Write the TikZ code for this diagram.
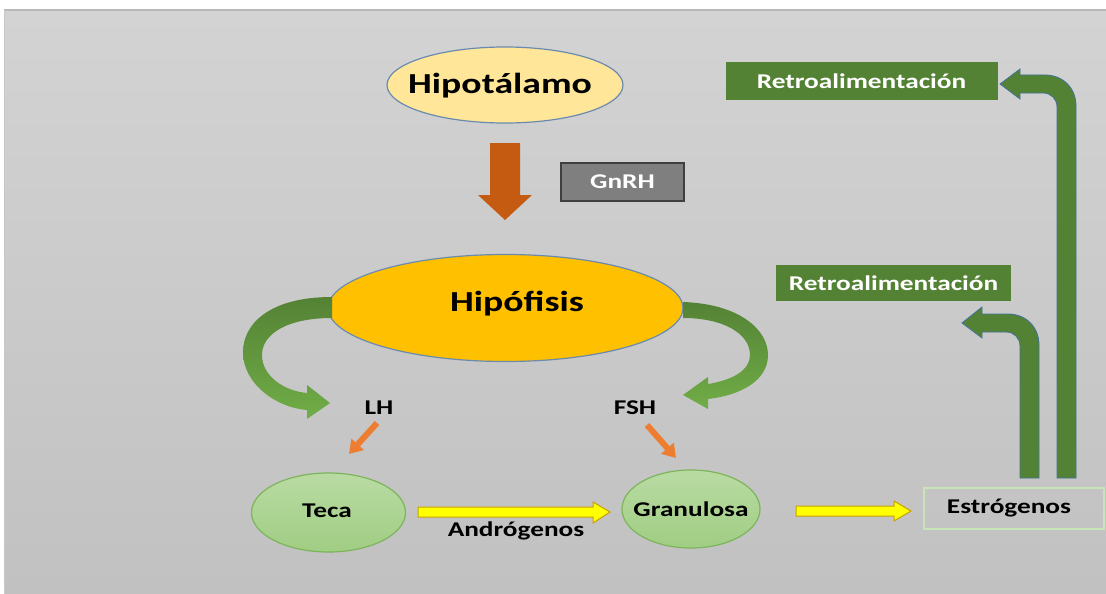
\documentclass[tikz,border=0pt]{standalone}
\usepackage{fontspec}
\usepackage{graphicx}
\setmainfont{Carlito}
\usetikzlibrary{shapes.geometric,arrows.meta}
\newcommand{\stxt}[1]{\scalebox{1.3}[1]{#1}}
\definecolor{bgtop}{HTML}{D3D3D3}
\definecolor{bgbot}{HTML}{C1C1C1}
\definecolor{hypo}{HTML}{FFE699}
\definecolor{eborder}{HTML}{6A8BAE}
\definecolor{hipof}{HTML}{FFC000}
\definecolor{dgreen}{HTML}{548235}
\definecolor{lgreen}{HTML}{70AD47}
\definecolor{brownarr}{HTML}{C55A11}
\definecolor{gnrhfill}{HTML}{7F7F7F}
\definecolor{gnrhdraw}{HTML}{3F3F3F}
\definecolor{orangearr}{HTML}{ED7D31}
\definecolor{yelarr}{HTML}{FFFF00}
\definecolor{yelborder}{HTML}{C9A100}
\definecolor{ntop}{HTML}{B9DBA3}
\definecolor{nbot}{HTML}{A0CD83}
\definecolor{nborder}{HTML}{7CB55A}
\definecolor{estborder}{HTML}{C9E5B8}
\definecolor{fbborder}{HTML}{41719C}
\begin{document}
\begin{tikzpicture}[x=1pt,y=-1pt,
  txt/.style={font=\bfseries\fontsize{21}{24}\selectfont, inner sep=0},
  bigtxt/.style={font=\bfseries\fontsize{29}{34}\selectfont, inner sep=0},
  cellnode/.style={ellipse, top color=ntop, bottom color=nbot, draw=nborder, line width=1.2, inner sep=0},
  retro/.style={rectangle, fill=dgreen, text=white, inner sep=0},
  feedback/.style={fill=dgreen, draw=fbborder, line width=0.8},
  yellowarrow/.style={fill=yelarr, draw=yelborder, line width=1},
  thinarrow/.style={draw=orangearr, line width=6, -{Triangle[width=16,length=13]}}]
\useasboundingbox (0,0) rectangle (1106,594);
% background
\shade[top color=bgtop, bottom color=bgbot] (4,10) rectangle (1106,594);
\draw[line width=1.5, color=black!28] (4,10) -- (1106,10);
\draw[line width=1, color=black!22] (4,10) -- (4,594);

% Hipotalamo
\node[ellipse, fill=hypo, draw=eborder, line width=1.2, minimum width=236, minimum height=76, inner sep=0] (hipot) at (505,85) {};
\node[bigtxt] (hipottext) at (500,86) {\stxt{Hipotálamo}};

% brown arrow
\fill[brownarr] (490,143) -- (520,143) -- (520,195) -- (532,195) -- (505,220) -- (478,195) -- (490,195) -- cycle;

% GnRH box
\node[rectangle, fill=gnrhfill, draw=gnrhdraw, line width=1.5, minimum width=123, minimum height=38, inner sep=0, text=white, txt] (gnrh) at (622.5,182) {\stxt{GnRH}};

% Hipofisis
\node[ellipse, fill=hipof, draw=eborder, line width=1.2, minimum width=355, minimum height=107, inner sep=0] (hipof) at (505.5,308) {};
\node[bigtxt] (hipoftext) at (517,304) {\stxt{Hipófisis}};

% left curved arrow
\shade[top color=dgreen, bottom color=lgreen]
  (332,297) .. controls (268,297) and (243,325) .. (243,352)
  .. controls (243,385) and (278,408) .. (307,410)
  -- (307,419) -- (330,403) -- (307,385) -- (307,393)
  .. controls (284,391) and (262,376) .. (262,355)
  .. controls (262,334) and (287,318) .. (332,318) -- cycle;

% right curved arrow
\shade[top color=dgreen, bottom color=lgreen]
  (683,302) .. controls (740,304) and (768,330) .. (768,355)
  .. controls (768,380) and (742,395) .. (708,399)
  -- (708,409) -- (683,395) -- (708,377) -- (708,384)
  .. controls (733,380) and (750,370) .. (750,355)
  .. controls (750,334) and (724,318) .. (683,318) -- cycle;

% LH / FSH
\node[txt] (lh) at (379,408) {\stxt{LH}};
\node[txt] (fsh) at (635,408) {\stxt{FSH}};
\coordinate (lhs) at (377,423);
\coordinate (lhe) at (349,454);
\coordinate (fshs) at (647,425);
\coordinate (fshe) at (676,458);
\draw[thinarrow] (lhs) -- (lhe);
\draw[thinarrow] (fshs) -- (fshe);

% Teca, Granulosa
\node[cellnode, minimum width=154, minimum height=79] (teca) at (328.5,512.5) {};
\node[txt] (tecatext) at (327,511) {\stxt{Teca}};
\node[cellnode, minimum width=138, minimum height=78] (gran) at (691,509) {};
\node[txt] (grantext) at (691,509) {\stxt{Granulosa}};

% yellow arrows
\filldraw[yellowarrow] (418,507) -- (593,507) -- (593,502) -- (610,512) -- (593,523) -- (593,517) -- (418,517) -- cycle;
\node[txt] (andro) at (516,531) {\stxt{Andrógenos}};
\filldraw[yellowarrow] (796,506) -- (894,506) -- (894,501) -- (911,511) -- (894,521) -- (894,516) -- (796,516) -- cycle;

% Estrogenos
\node[rectangle, draw=estborder, line width=2, minimum width=180, minimum height=41, inner sep=0] (estro) at (1014,508) {};
\node[txt] (estrotext) at (1009,508) {\stxt{Estrógenos}};

% Retroalimentacion boxes
\node[retro, txt, minimum width=272, minimum height=38] (retro1) at (861.5,81) {\stxt{Retroalimentación}};
\node[retro, txt, minimum width=235, minimum height=36] (retro2) at (893.5,283) {\stxt{Retroalimentación}};

% feedback arrows
\filldraw[feedback] (1076,478) -- (1076,106) .. controls (1076,88) and (1063,75) .. (1045,75)
  -- (1020,75) -- (1020,69) -- (1000,84) -- (1020,99) -- (1020,93) -- (1043,93)
  .. controls (1051,93) and (1057,99) .. (1057,107) -- (1057,478) -- cycle;
\filldraw[feedback] (1039,478) -- (1039,345) .. controls (1039,327) and (1026,314) .. (1008,314)
  -- (982,314) -- (982,307) -- (962,323) -- (982,338) -- (982,332) -- (1006,332)
  .. controls (1014,332) and (1020,338) .. (1020,346) -- (1020,478) -- cycle;
\end{tikzpicture}
\end{document}
